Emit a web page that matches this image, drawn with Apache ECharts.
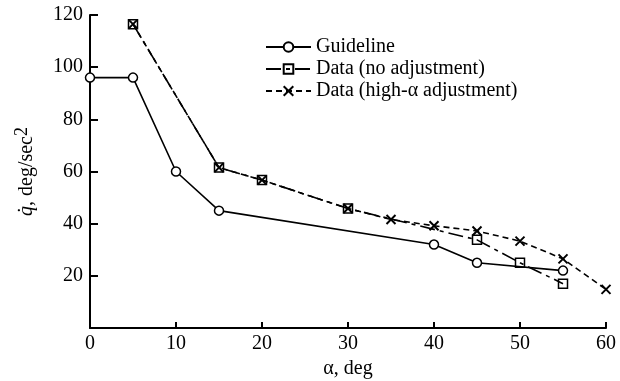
<!DOCTYPE html>
<html><head><meta charset="utf-8">
<script src="https://cdn.jsdelivr.net/npm/echarts@6/dist/echarts.min.js"></script>
<style>html,body{margin:0;padding:0;background:#fff}#c{width:620px;height:381px}</style>
</head><body><div id="c"></div>
<script>
const guideX = [0, 5, 10, 15, 40, 45, 55];
const guideY = [96, 96, 60, 45, 32, 25, 22];
const noAdjX = [5, 15, 20, 30, 45, 50, 55];
const noAdjY = [116.5, 61.5, 56.7, 45.8, 33.8, 25, 17];
const highX = [5, 15, 20, 30, 35, 40, 45, 50, 55, 60];
const highY = [116.5, 61.5, 56.7, 45.8, 41.6, 39.2, 37.2, 33.3, 26.5, 14.8];
const seriesNames = ['Guideline', 'Data (no adjustment)', 'Data (high-\u03b1 adjustment)'];
const xTicks = [0, 10, 20, 30, 40, 50, 60];
const yTicks = [20, 40, 60, 80, 100, 120];

const zip = (xs, ys) => xs.map((x, i) => [x, ys[i]]);
const F = 'Liberation Serif';
const FS = 20;
const chart = echarts.init(document.getElementById('c'), null, {renderer: 'canvas'});
chart.setOption({
  animation: false,
  backgroundColor: '#fff',
  grid: {left: 90, right: 14, top: 15, bottom: 53, containLabel: false, outerBoundsMode: 'none'},
  legend: {
    orient: 'vertical', left: 260, top: 32, itemGap: 2, itemWidth: 45, itemHeight: 12,
    textStyle: {fontFamily: F, fontSize: FS, color: '#000', lineHeight: 20, padding: [0, 0, 0, 0]},
    data: seriesNames
  },
  xAxis: {
    type: 'value', min: 0, max: 60, interval: 10,
    name: '\u03b1, deg', nameLocation: 'middle', nameGap: 29,
    nameTextStyle: {fontFamily: F, fontSize: FS, color: '#000'},
    axisLine: {lineStyle: {color: '#000', width: 2}},
    axisTick: {inside: true, length: 6, lineStyle: {color: '#000', width: 2}},
    axisLabel: {fontFamily: F, fontSize: FS, color: '#000', margin: 6,
      formatter: v => xTicks.includes(v) ? String(v) : ''},
    splitLine: {show: false}
  },
  yAxis: {
    type: 'value', min: 0, max: 120, interval: 20,
    name: '{q|q\u0307}{n|, deg/sec}{s|2}', nameLocation: 'middle', nameGap: 50,
    nameTextStyle: {fontFamily: F, fontSize: FS, color: '#000',
      rich: {
        q: {fontFamily: F, fontSize: FS, fontStyle: 'italic', color: '#000'},
        n: {fontFamily: F, fontSize: FS, color: '#000'},
        s: {fontFamily: F, fontSize: 18, color: '#000', padding: [0, 0, 9, 0]}
      }},
    axisLine: {lineStyle: {color: '#000', width: 2}},
    axisTick: {inside: true, length: 8, lineStyle: {color: '#000', width: 2}},
    axisLabel: {fontFamily: F, fontSize: FS, color: '#000', margin: 7,
      formatter: v => yTicks.includes(v) ? String(v) : ''},
    splitLine: {show: false}
  },
  series: [
    {
      name: seriesNames[0], type: 'line', data: zip(guideX, guideY),
      symbol: 'circle', symbolSize: 9, showSymbol: true,
      lineStyle: {color: '#000', width: 1.6, type: 'solid'},
      itemStyle: {color: '#fff', borderColor: '#000', borderWidth: 1.5}
    },
    {
      name: seriesNames[1], type: 'line', data: zip(noAdjX, noAdjY),
      symbol: 'rect', symbolSize: 9,
      lineStyle: {color: '#000', width: 1.6, type: [15, 5, 4, 5]},
      itemStyle: {color: 'rgba(255,255,255,0)', borderColor: '#000', borderWidth: 1.5}
    },
    {
      name: seriesNames[2], type: 'line', data: zip(highX, highY),
      symbol: 'path://M0,0L10,10M10,0L0,10', symbolSize: 9,
      lineStyle: {color: '#000', width: 1.6, type: [6, 4]},
      itemStyle: {color: 'rgba(0,0,0,0)', borderColor: '#000', borderWidth: 2}
    }
  ]
});
</script></body></html>
